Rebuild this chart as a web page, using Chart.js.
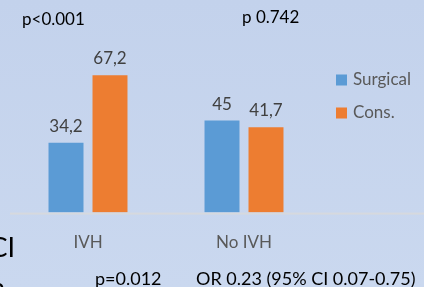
<!DOCTYPE html>
<html>
<head>
<meta charset="utf-8">
<script src="https://cdn.jsdelivr.net/npm/chart.js@4.4.0/dist/chart.umd.min.js"></script>
<style>
html, body { margin: 0; padding: 0; }
body { background: linear-gradient(#c3d2ec, #cad8ef); width: 424px; height: 287px; overflow: hidden; }
#wrap { width: 424px; height: 287px; position: relative; }
</style>
</head>
<body>
<div id="wrap"><canvas id="chart"></canvas></div>
<script>
const categories = ['IVH', 'No IVH'];
const seriesNames = ['Surgical', 'Cons.'];
const surgical = [34.2, 45];
const cons = [67.2, 41.7];
const pValues = ['p<0.001', 'p 0.742'];
const footNotes = ['p=0.012', 'OR 0.23 (95% CI 0.07-0.75)'];
const colors = ['#5b9bd5', '#ed7d31'];

const FONT = 'Lato, "Open Sans", sans-serif';

// value labels, baseline, legend and the loose text around the chart
const extras = {
    id: 'extras',
    afterDatasetsDraw(chart) {
        const ctx = chart.ctx, area = chart.chartArea;
        const y0 = chart.scales.y.getPixelForValue(0);

        ctx.save();
        ctx.fillStyle = '#d6d9de';
        ctx.fillRect(area.left, y0, chart.width - area.left, 2);

        ctx.font = '17px ' + FONT;
        ctx.fillStyle = '#404040';
        ctx.textAlign = 'center';
        ctx.textBaseline = 'alphabetic';
        chart.data.datasets.forEach((ds, di) => {
            chart.getDatasetMeta(di).data.forEach((bar, i) => {
                ctx.fillText(String(ds.data[i]).replace('.', ','), bar.x, bar.y - 11);
            });
        });

        // legend
        ctx.font = '17px ' + FONT;
        ctx.textAlign = 'left';
        ctx.textBaseline = 'middle';
        seriesNames.forEach((name, i) => {
            const y = 80 + i * 33;
            ctx.fillStyle = colors[i];
            ctx.fillRect(336, y - 5.5, 11, 11);
            ctx.fillStyle = '#595959';
            ctx.fillText(name, 353, y);
        });

        // p values over each group
        ctx.fillStyle = '#000';
        ctx.font = '17px ' + FONT;
        ctx.textBaseline = 'alphabetic';
        ctx.fillText(pValues[0], 22, 25);
        ctx.fillText(pValues[1], 242, 23);

        ctx.font = '18px ' + FONT;
        ctx.fillText(footNotes[0], 95, 285);
        ctx.fillText(footNotes[1], 196, 285);

        // cut-off text at the left edge
        ctx.font = '27px ' + FONT;
        ctx.textAlign = 'right';
        ctx.fillText('CI', 15, 257);
        ctx.fillText('n', 5, 297);
        ctx.restore();
    }
};

new Chart(document.getElementById('chart'), {
    type: 'bar',
    data: {
        labels: categories,
        datasets: [
            { label: seriesNames[0], data: surgical, backgroundColor: colors[0] },
            { label: seriesNames[1], data: cons, backgroundColor: colors[1] }
        ]
    },
    options: {
        responsive: true,
        maintainAspectRatio: false,
        animation: false,
        layout: { padding: { left: 10, right: 102, top: 49, bottom: 14 } },
        datasets: { bar: { categoryPercentage: 0.564, barPercentage: 0.795 } },
        plugins: { legend: { display: false }, tooltip: { enabled: false } },
        scales: {
            x: {
                grid: { display: false, drawTicks: false },
                border: { display: false },
                ticks: { color: '#595959', font: { family: FONT, size: 17 }, padding: 20 }
            },
            y: { display: false, min: 0, max: 80 }
        }
    },
    plugins: [extras]
});
</script>
</body>
</html>
